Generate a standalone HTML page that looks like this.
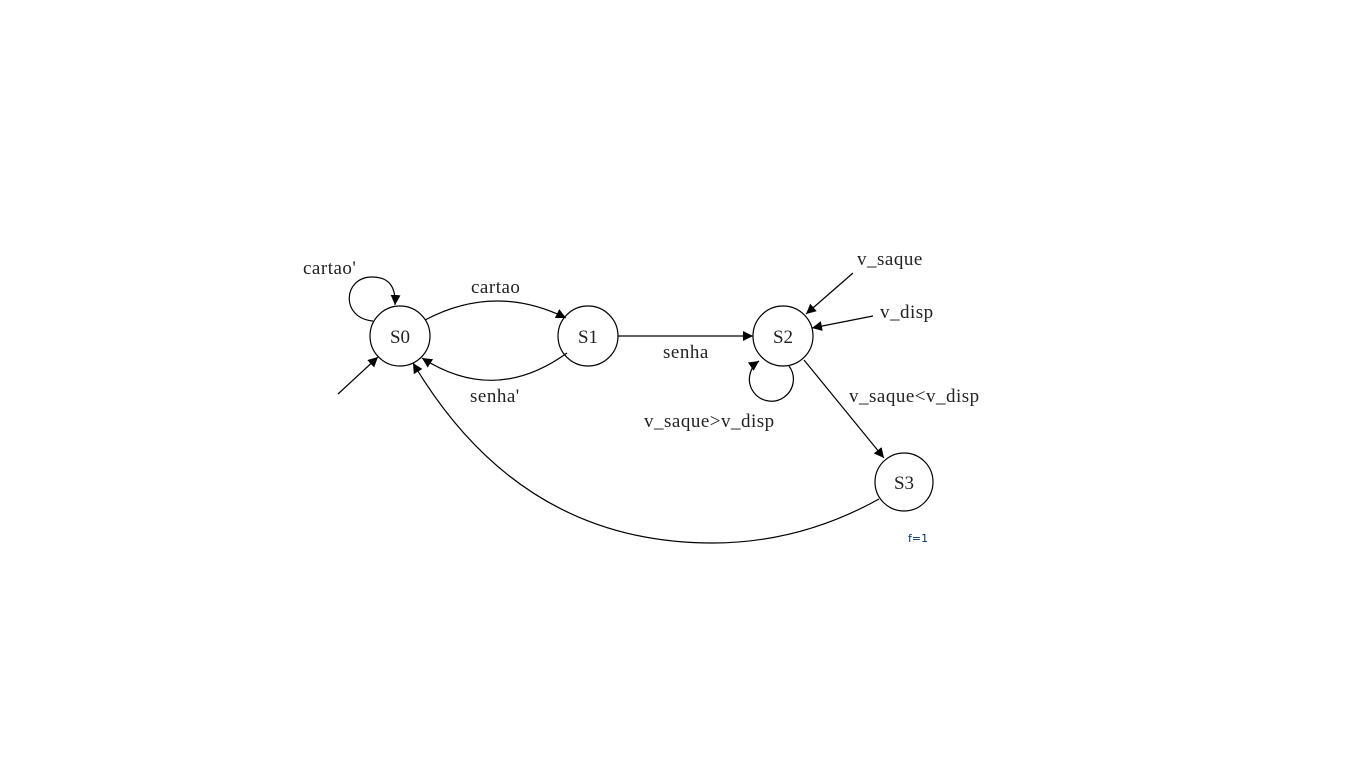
<!DOCTYPE html>
<html><head><meta charset="utf-8"><style>
html,body{margin:0;padding:0;background:#fff;width:1366px;height:768px;overflow:hidden}
svg{display:block}
text{font-family:"Liberation Serif",serif;font-size:19px;fill:#222;letter-spacing:0.5px}
</style></head><body>
<svg width="1366" height="768" viewBox="0 0 1366 768">
<defs>
<marker id="a" viewBox="0 0 10 10" refX="10" refY="5" markerWidth="10" markerHeight="10" markerUnits="userSpaceOnUse" orient="auto">
<path d="M0,0 L10,5 L0,10 z" fill="#000"/></marker>
</defs>
<g fill="none" stroke="#000" stroke-width="1.2">
<circle cx="400" cy="336" r="30"/>
<circle cx="588" cy="336" r="30"/>
<circle cx="783" cy="336" r="30"/>
<circle cx="904" cy="482" r="29"/>
<path d="M373,321 C340,318 343,277 372,277 C390,277 396,288 395,305" marker-end="url(#a)"/>
<path d="M338,394 L378,357" marker-end="url(#a)"/>
<path d="M425,320 Q495,283 566,318" marker-end="url(#a)"/>
<path d="M567,353 Q495,405 422,358" marker-end="url(#a)"/>
<path d="M618,336 L753,336" marker-end="url(#a)"/>
<path d="M789,366 A22,22 0 1 1 759,361" marker-end="url(#a)"/>
<path d="M853,273 L806,314" marker-end="url(#a)"/>
<path d="M873,316 L812,328" marker-end="url(#a)"/>
<path d="M804,360 L884,458" marker-end="url(#a)"/>
<path d="M879,499 Q800,543 712,543 Q520,543 413,363" marker-end="url(#a)"/>
</g>
<text x="400" y="343" text-anchor="middle" font-size="20" style="letter-spacing:0">S0</text>
<text x="588" y="343" text-anchor="middle" font-size="20" style="letter-spacing:0">S1</text>
<text x="783" y="343" text-anchor="middle" font-size="20" style="letter-spacing:0">S2</text>
<text x="904" y="489" text-anchor="middle" font-size="20" style="letter-spacing:0">S3</text>
<text x="303" y="274">cartao'</text>
<text x="471" y="293">cartao</text>
<text x="470" y="402">senha'</text>
<text x="663" y="358">senha</text>
<text x="857" y="265">v_saque</text>
<text x="880" y="318">v_disp</text>
<text x="849" y="402">v_saque&lt;v_disp</text>
<text x="644" y="427">v_saque&gt;v_disp</text>
<text x="908" y="542" style="font-family:'DejaVu Sans',sans-serif;font-size:11px;fill:#003366;letter-spacing:0">f=1</text>
</svg>
</body></html>
